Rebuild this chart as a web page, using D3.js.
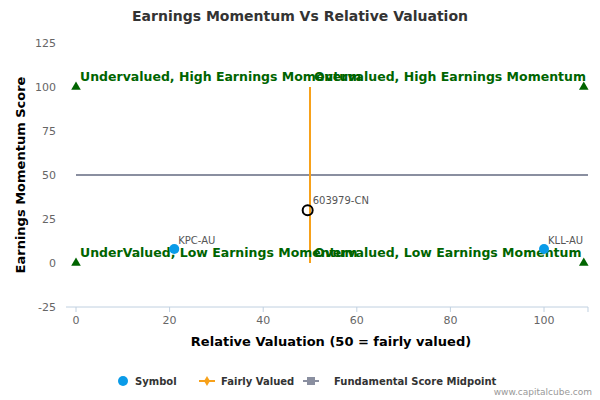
<!DOCTYPE html>
<html><head><meta charset="utf-8">
<script src="https://cdn.jsdelivr.net/npm/d3@7"></script>
<style>body{margin:0;background:#fff;font-family:"DejaVu Sans",sans-serif}</style>
</head><body><svg id="c" width="600" height="400"></svg>
<script>
const symbols = ["KPC-AU","KLL-AU"];
const symbolX = [21,100];
const symbolY = [8,8];
const focus = {name:"603979-CN", x:49.5, y:30};
const xTicks = [0,20,40,60,80,100];
const yTicks = [-25,0,25,50,75,100,125];
const corners = [[0,0],[0,100],[108.5,0],[108.5,100]];
const quadLabels = [
 {t:"Undervalued, High Earnings Momentum", x:0, y:100},
 {t:"Overvalued, High Earnings Momentum", x:50, y:100},
 {t:"UnderValued, Low Earnings Momentum", x:0, y:0},
 {t:"Overvalued, Low Earnings Momentum", x:50, y:0}];

const svg = d3.select("#c");
const x = d3.scaleLinear().domain([0,100]).range([76,544]);
const y = d3.scaleLinear().domain([-25,125]).range([307,43]);
const xMax = 109.4;

svg.append("text").attr("x",300).attr("y",21).attr("text-anchor","middle")
 .attr("font-size",14).attr("font-weight","bold").attr("fill","#333").text("Earnings Momentum Vs Relative Valuation");

svg.append("line").attr("x1",66).attr("x2",x(xMax)).attr("y1",307).attr("y2",307).attr("stroke","#c0d0e0");
xTicks.forEach(t=>{
 svg.append("line").attr("x1",x(t)).attr("x2",x(t)).attr("y1",307).attr("y2",312).attr("stroke","#c0d0e0");
 svg.append("text").attr("x",x(t)).attr("y",324).attr("text-anchor","middle").attr("font-size",11).attr("fill","#666").text(t);
});
svg.append("line").attr("x1",x(xMax)).attr("x2",x(xMax)).attr("y1",307).attr("y2",312).attr("stroke","#c0d0e0");
yTicks.forEach(t=>{
 svg.append("text").attr("x",56).attr("y",y(t)+4).attr("text-anchor","end").attr("font-size",11).attr("fill","#666").text(t);
});
svg.append("text").attr("x",331).attr("y",346).attr("text-anchor","middle").attr("font-size",13).attr("font-weight","bold").attr("fill","#000").text("Relative Valuation (50 = fairly valued)");
svg.append("text").attr("transform",`translate(25,${y(50)}) rotate(-90)`).attr("text-anchor","middle").attr("font-size",13).attr("font-weight","bold").attr("fill","#000").text("Earnings Momentum Score");

svg.append("line").attr("x1",x(0)).attr("x2",x(xMax)).attr("y1",y(50)).attr("y2",y(50)).attr("stroke","#8a8fa0").attr("stroke-width",2);
svg.append("line").attr("x1",x(50)).attr("x2",x(50)).attr("y1",y(0)).attr("y2",y(100)).attr("stroke","#f7a11a").attr("stroke-width",2);

corners.forEach(c=>svg.append("path").attr("d",d3.symbol(d3.symbolTriangle,40)()).attr("transform",`translate(${x(c[0])},${y(c[1])})`).attr("fill","#006400"));

quadLabels.forEach(q=>svg.append("text").attr("x",x(q.x)+4).attr("y",y(q.y)-6).attr("font-size",12.5).attr("font-weight","bold").attr("fill","#006400").text(q.t));

symbols.forEach((s,i)=>{
 svg.append("circle").attr("cx",x(symbolX[i])).attr("cy",y(symbolY[i])).attr("r",5).attr("fill","#0a9be8");
 svg.append("text").attr("x",x(symbolX[i])+4).attr("y",y(symbolY[i])-5).attr("font-size",10).attr("fill","#555").text(s);
});
svg.append("circle").attr("cx",x(focus.x)).attr("cy",y(focus.y)).attr("r",5).attr("fill","none").attr("stroke","#000").attr("stroke-width",2);
svg.append("text").attr("x",x(focus.x)+5).attr("y",y(focus.y)-6).attr("font-size",10).attr("fill","#555").text(focus.name);

const lg = svg.append("g").attr("font-size",10).attr("font-weight","bold").attr("fill","#333");
lg.append("circle").attr("cx",123).attr("cy",381).attr("r",5).attr("fill","#0a9be8");
lg.append("text").attr("x",135).attr("y",385).text("Symbol");
lg.append("line").attr("x1",199).attr("x2",215).attr("y1",381).attr("y2",381).attr("stroke","#f7a11a").attr("stroke-width",2);
lg.append("path").attr("d",d3.symbol(d3.symbolDiamond,30)()).attr("transform","translate(207,381)").attr("fill","#f7a11a");
lg.append("text").attr("x",221).attr("y",385).text("Fairly Valued");
lg.append("line").attr("x1",303).attr("x2",319).attr("y1",381).attr("y2",381).attr("stroke","#8a8fa0").attr("stroke-width",2);
lg.append("rect").attr("x",307).attr("y",377).attr("width",8).attr("height",8).attr("fill","#8a8fa0");
lg.append("text").attr("x",334).attr("y",385).text("Fundamental Score Midpoint");
svg.append("text").attr("x",592).attr("y",395).attr("text-anchor","end").attr("font-size",9).attr("fill","#999").text("www.capitalcube.com");
</script></body></html>
